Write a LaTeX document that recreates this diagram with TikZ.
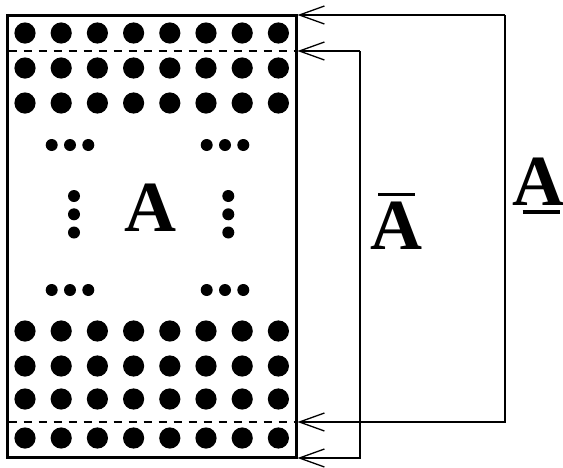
\documentclass[tikz,border=0pt]{standalone}
\usepackage{fontspec}
\setmainfont{Liberation Serif}
\usetikzlibrary{arrows.meta}
\begin{document}
\begin{tikzpicture}[x=1pt,y=-1pt,
  bigdot/.style={fill=black,draw=none},
  smalldot/.style={fill=black,draw=none},
  border/.style={line width=3pt},
  sep/.style={line width=1.3pt,dash pattern=on 8pt off 7pt},
  conn/.style={line width=1.3pt,-{Straight Barb[length=25pt,width=18pt,line width=1.3pt]}},
  lbl/.style={font=\fontsize{72}{72}\selectfont\bfseries,inner sep=0pt,anchor=base},
  bar/.style={line width=3.5pt}]
\useasboundingbox (0,0) rectangle (563,467);
% box
\draw[border] (7,15) rectangle (296,457);
\coordinate (tTop) at (297.5,15);
\coordinate (tSep1) at (297.5,51);
\coordinate (tSep2) at (297.5,422);
\coordinate (tBot) at (297.5,458);
\draw[sep] (8.5,51) -- (296,51);
\draw[sep] (8.5,422) -- (296,422);
% dots
\foreach \y in {33,68,103,331,366,399,438}{
  \foreach \i in {0,...,7}{
    \fill[bigdot] (25+\i*36.2,\y) circle (10.6);
  }
}
\foreach \y in {145,290}{
  \foreach \x in {51.7,70,88.3,206.7,225,243.3}{
    \fill[smalldot] (\x,\y) circle (6);
  }
}
\foreach \x in {74,228.3}{
  \foreach \y in {196,214.3,232.5}{
    \fill[smalldot] (\x,\y) circle (6);
  }
}
\node[lbl] (mA) at (150,231.7) {A};
% connectors
\coordinate (oT) at (505,15);
\coordinate (oB) at (505,422);
\coordinate (iT) at (360,51);
\coordinate (iB) at (360,458);
\draw[conn] (oT) -- (tTop);
\draw[conn] (oT) -- (oB) -- (tSep2);
\draw[conn] (iT) -- (tSep1);
\draw[conn] (iT) -- (iB) -- (tBot);
% labels
\node[lbl] (bA) at (396,249) {A};
\draw[bar] (378,194.3) -- (415,194.3);
\node[lbl] (uA) at (538,205) {A};
\draw[bar] (522.5,212) -- (560,212);
\end{tikzpicture}
\end{document}
